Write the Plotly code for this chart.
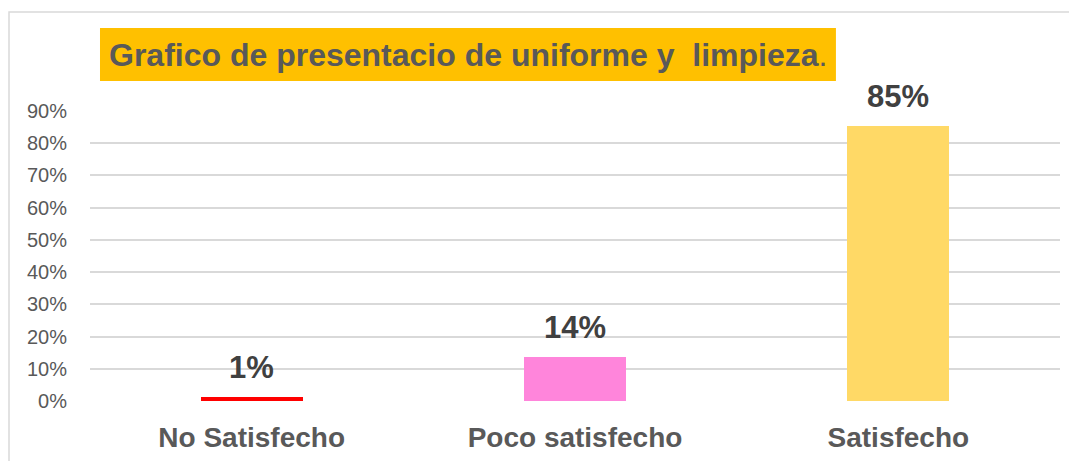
import plotly.graph_objects as go

categories = ["No Satisfecho", "Poco satisfecho", "Satisfecho"]
values = [0.011, 0.136, 0.853]
labels = ["1%", "14%", "85%"]
colors = ["#FF0000", "#FF85DB", "#FFD966"]
tick_vals = [0, 0.1, 0.2, 0.3, 0.4, 0.5, 0.6, 0.7, 0.8, 0.9]
tick_text = ["0%", "10%", "20%", "30%", "40%", "50%", "60%", "70%", "80%", "90%"]
title_text = "<b>Grafico de presentacio de uniforme y  limpieza</b>."

FONT = "Liberation Sans, Arial"

fig = go.Figure()
fig.add_trace(go.Bar(x=categories, y=values, marker=dict(color=colors, line=dict(width=0)),
                     width=0.315, hoverinfo="skip"))

for c, v, t in zip(categories, values, labels):
    fig.add_annotation(x=c, y=v, text=f"<b>{t}</b>", showarrow=False, yanchor="bottom",
                       yshift=10, font=dict(family=FONT, size=31, color="#404040"))

fig.add_annotation(xref="paper", yref="paper", x=0.0175, y=1.1933, xanchor="left", yanchor="middle",
                   text=title_text, showarrow=False,
                   font=dict(family=FONT, size=32, color="#595959"))

fig.update_layout(
    width=1069, height=453,
    margin=dict(l=82, r=17, t=103, b=60, autoexpand=False),
    paper_bgcolor="white", plot_bgcolor="white",
    showlegend=False,
    bargap=0,
    font=dict(family=FONT, color="#595959"),
    xaxis=dict(showgrid=False, showline=False, zeroline=False, automargin=False,
               ticks="outside", ticklen=11, tickcolor="rgba(0,0,0,0)",
               tickfont=dict(size=28, color="#595959", family=FONT),
               tickprefix="<b>", ticksuffix="</b>", range=[-0.5, 2.5]),
    yaxis=dict(range=[0, 0.9], tickvals=tick_vals, ticktext=tick_text, showgrid=True,
               gridcolor="#D9D9D9", gridwidth=1.5, zeroline=False, showline=False, automargin=False,
               ticks="outside", ticklen=18, tickcolor="rgba(0,0,0,0)",
               tickfont=dict(size=20, color="#595959", family=FONT)),
    shapes=[
        dict(type="rect", xref="paper", yref="paper", x0=-0.0835, x1=1.1, y0=-0.6, y1=1.3417,
             line=dict(color="#D9D9D9", width=1.5), fillcolor="rgba(0,0,0,0)", layer="below"),
        dict(type="rect", xref="paper", yref="paper", x0=0.0103, x1=0.769, y0=1.1036, y1=1.2865,
             fillcolor="#FFC000", line=dict(width=0), layer="below"),
    ],
)

fig.write_html("out.html")
